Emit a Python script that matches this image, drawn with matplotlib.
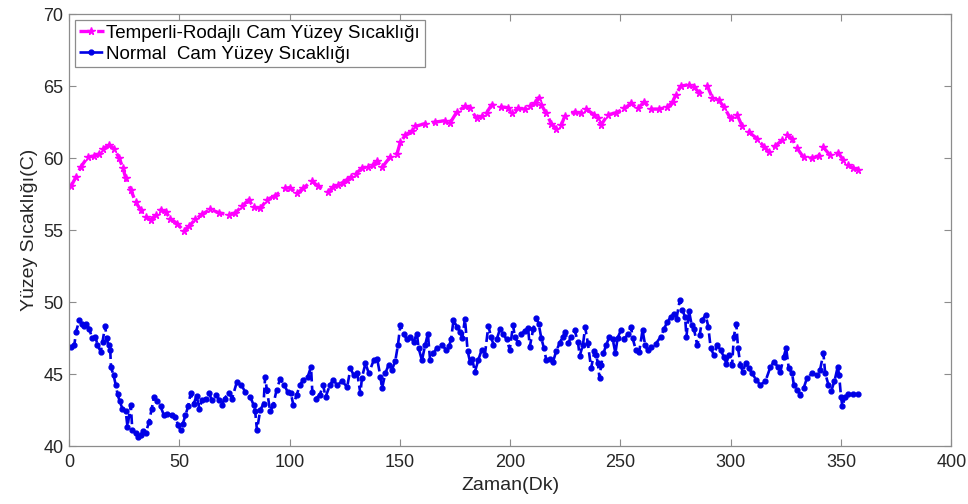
import matplotlib
matplotlib.use("Agg")
import matplotlib.pyplot as plt

# Temperli-Rodajlı cam (magenta)
t_temp = [0.9, 3.2, 5.4, 8.4, 11.4, 13.7, 15.2, 18.2, 20.5, 22.7, 24.5, 25.7, 28, 30.2,
          32.5, 34.8, 37, 39.3, 41.5, 43.8, 46, 49, 52, 54.3, 57.3, 60.4, 64.1, 67.9,
          72.4, 75.4, 78.4, 81.4, 83.7, 86.7, 89.7, 93.5, 98, 100.2, 103.2, 106.2, 110,
          113, 117.5, 119.8, 122, 124, 126, 128, 130, 132.7, 135.5, 137.6, 139.7, 141.9,
          145.7, 148.7, 150.2, 152.5, 155.5, 157, 161.5, 166, 170.5, 172.8, 175.8, 179.5,
          181.8, 184.8, 187, 189.3, 191.6, 196, 199, 200.6, 203.6, 206.6, 208.9, 211.1,
          212.9, 214.1, 216.4, 218.6, 220.9, 223.2, 224.7, 229.2, 232.2, 234.4, 238.2,
          239.7, 241.2, 244.2, 248, 251.8, 254.8, 257.8, 260.8, 263.8, 267.5, 271.3,
          273.6, 275.1, 277.3, 281.1, 283.3, 285.6, 289.4, 291.6, 294.7, 296.9, 299.9,
          302.9, 305.2, 308.2, 312, 315, 317.2, 320.2, 323.3, 325.5, 327.8, 330, 333,
          336.8, 339.8, 342, 345, 348.8, 351.1, 353.3, 355.6, 357.5]
v_temp = [58.05, 58.7, 59.4, 60.05, 60.15, 60.3, 60.65, 60.9, 60.65, 60.0, 59.3, 58.6, 57.8, 56.95,
          56.4, 55.9, 55.7, 56.05, 56.4, 56.25, 55.8, 55.45, 54.95, 55.25, 55.75, 56.1, 56.45, 56.2,
          56.05, 56.2, 56.65, 57.1, 56.6, 56.5, 57.1, 57.4, 57.9, 57.95, 57.55, 57.9, 58.4,
          58.05, 57.65, 58.0, 58.1, 58.3, 58.5, 58.7, 58.9, 59.3, 59.4, 59.5, 59.8, 59.35,
          60.1, 60.3, 61.1, 61.6, 61.9, 62.2, 62.4, 62.5, 62.6, 62.45, 63.2, 63.6,
          63.45, 62.75, 62.9, 63.15, 63.7, 63.55, 63.5, 63.15, 63.45, 63.4, 63.6, 63.8,
          64.2, 63.7, 63.1, 62.4, 62.05, 62.3, 62.9, 63.2, 63.1, 63.4, 63.0,
          62.75, 62.3, 63.0, 63.15, 63.45, 63.8, 63.45, 63.9, 63.4, 63.4, 63.55,
          63.9, 64.4, 65.0, 65.1, 64.95, 64.55, 65.0, 64.2, 64.0, 63.55, 62.75,
          63.0, 62.2, 61.8, 61.35, 60.8, 60.45, 60.85, 61.25, 61.6, 61.35, 60.7, 60.05,
          60.0, 60.15, 60.75, 60.2, 60.35, 59.85, 59.5, 59.3, 59.2]

# Normal cam (blue)
t_norm = [0.9, 2.4, 3.2, 4.7, 5.8, 6.9, 7.9, 9.2, 10.4, 12, 12.9, 14.4, 15.2, 16.4, 17, 17.9,
          18.7, 19, 20.2, 21.2, 22, 23, 24.2, 25.7, 26.5, 28, 28.7, 30.2, 31.4, 32.5, 33.6,
          34.8, 36.3, 37.5, 38.5, 40, 41.5, 43, 44.5, 46.5, 48, 49.5, 50.6, 51.6, 52.8, 54,
          55.1, 56.6, 57.8, 59.1, 60.3, 61.9, 63.3, 64.8, 66.7, 68.2, 69.3, 70.5, 72.4,
          73.9, 76.1, 78.1, 79.9, 82.2, 83.7, 84.4, 85.2, 86.7, 88.2, 88.9, 89.7, 91.2,
          92.6, 94.1, 95.7, 97.6, 99.1, 100.6, 101.7, 103.2, 104.7, 106.2, 108.2, 109.7,
          110.3, 111.8, 113.7, 115.2, 116.3, 118.3, 119.8, 121.6, 123.8, 126.1, 127.6,
          129.1, 130.6, 132.1, 132.8, 134.4, 135.9, 138.1, 139.7, 141.2, 141.9, 143.4,
          144.9, 146.4, 147.9, 149.1, 150.2, 151.7, 153.2, 154.7, 156.2, 157.7, 158.5,
          160, 161.5, 162.7, 163.7, 165.2, 166.7, 169, 170.8, 172.3, 173.2, 174.3, 175.8,
          177.3, 178.3, 179.5, 180.7, 181.8, 182.8, 184, 185.5, 187, 188.5, 190.1, 191.3,
          192.4, 193.9, 195.3, 196.8, 198.4, 199.8, 201.3, 202.1, 203.6, 205.1, 206.6,
          208.1, 208.9, 210.4, 211.9, 212.9, 214.1, 215.3, 216.4, 217.9, 219.4, 220.9,
          222.4, 223.9, 225, 226.2, 227.7, 229.2, 230.7, 231.5, 233, 234, 235.2, 236.7,
          238.2, 239, 239.7, 240.5, 241.2, 242.3, 243.5, 245, 246.5, 247.7, 248.7, 250.2,
          251.8, 253.3, 254.8, 255.5, 257, 258.5, 260, 261.2, 262.3, 263.8, 266, 268.3,
          269.8, 271.3, 272.8, 274.3, 275.4, 276.9, 278.1, 279.3, 279.9, 281.1, 282.3,
          283.3, 284.8, 285.9, 287, 288.6, 289.8, 290.9, 292.4, 293.9, 295.4, 296.9,
          297.9, 299.1, 300.6, 301.4, 302.5, 303.3, 304.4, 305.5, 306.7, 308.2, 309.7,
          311.5, 313.4, 315.7, 318, 319.5, 321.4, 322.5, 324, 325.1, 326.3, 327.8, 328.6,
          330.1, 331.5, 333, 334.5, 336.8, 339, 340.5, 342, 342.8, 344.3, 345.5, 347,
          348.5, 349.1, 350, 350.6, 351.8, 353.3, 355.6, 357.5]
v_norm = [46.9, 47.0, 47.95, 48.75, 48.5, 48.35, 48.5, 48.15, 47.5, 47.6, 47.0, 46.55, 47.25, 48.35, 47.5, 47.0,
          46.65, 45.5, 44.9, 44.25, 43.6, 43.1, 42.6, 42.4, 41.35, 42.85, 41.1, 40.9, 40.6, 40.75, 41.05,
          40.9, 41.7, 42.6, 43.4, 43.1, 42.75, 42.15, 42.25, 42.15, 42.05, 41.45, 41.1, 41.55, 42.15, 42.75,
          43.65, 42.95, 43.5, 42.6, 43.2, 43.3, 43.7, 43.2, 43.55, 43.2, 42.85, 43.3, 43.7,
          43.3, 44.45, 44.25, 43.75, 43.4, 42.85, 42.4, 41.1, 42.5, 42.95, 44.8, 43.9, 42.4,
          42.85, 43.9, 44.65, 44.25, 43.75, 43.65, 42.85, 43.55, 44.25, 44.6, 44.8, 45.5,
          43.75, 43.3, 43.55, 44.25, 43.4, 44.25, 44.6, 44.25, 44.5, 44.1, 45.4,
          44.9, 45.1, 43.65, 44.75, 45.75, 45.05, 45.95, 46.05, 44.8, 44.0, 45.05,
          45.65, 45.3, 45.9, 47.0, 48.4, 47.8, 47.4, 47.6, 47.25, 47.8, 46.8,
          45.95, 47.05, 47.8, 45.95, 46.45, 46.8, 47.05, 46.7, 46.95, 47.4, 48.75, 48.3,
          47.95, 47.5, 48.85, 46.6, 45.85, 46.05, 45.15, 45.95, 46.65, 46.3, 48.35, 47.6,
          47.05, 47.4, 48.1, 47.8, 47.4, 46.7, 48.4, 47.6, 47.15, 47.8, 48.0,
          48.2, 46.9, 48.1, 48.9, 48.5, 47.5, 46.8, 45.95, 46.05, 45.85, 46.6,
          47.15, 47.6, 47.95, 47.15, 47.6, 48.05, 47.25, 46.25, 47.05, 48.25, 47.15, 45.4,
          46.6, 46.3, 45.8, 44.7, 45.6, 46.45, 47.0, 47.6, 47.4, 46.45, 47.5, 48.05,
          47.4, 47.8, 48.3, 47.5, 46.65, 46.55, 48.05, 47.0, 46.65, 46.9, 47.1, 47.6,
          48.15, 48.65, 48.95, 49.2, 48.85, 50.15, 49.45, 48.95, 47.6, 49.35, 48.4,
          48.15, 47.0, 47.7, 48.75, 49.1, 48.3, 46.8, 46.3, 47.0, 46.65, 46.2,
          45.7, 46.3, 45.6, 47.6, 48.5, 46.8, 45.6, 45.15, 45.75, 45.4, 45.05,
          44.6, 44.25, 44.5, 45.5, 45.85, 45.5, 45.15, 46.2, 46.8, 45.4, 45.05, 44.25,
          43.9, 43.55, 44.0, 44.7, 45.05, 44.95, 45.3, 46.45, 45.05, 44.25, 43.8, 44.5,
          45.5, 44.95, 43.4, 42.75, 43.4, 43.6, 43.6, 43.6]

label_temp = "Temperli-Rodajlı Cam Yüzey Sıcaklığı"
label_norm = "Normal  Cam Yüzey Sıcaklığı"
x_ticks = [0, 50, 100, 150, 200, 250, 300, 350, 400]
y_ticks = [40, 45, 50, 55, 60, 65, 70]

plt.rcParams['font.family'] = ['Liberation Sans', 'DejaVu Sans']
txt = '#262626'
spine = '#8c8c8c'

fig = plt.figure(figsize=(9.68, 5.04), dpi=100)
ax = fig.add_axes([0.0713, 0.115, 0.9115, 0.857])

ax.plot(t_temp, v_temp, linestyle='--', color='#ff00ff', linewidth=2.4,
        marker='*', markersize=5.5, label=label_temp)
ax.plot(t_norm, v_norm, linestyle='--', color='#0000e6', linewidth=1.9,
        marker='.', markersize=7, label=label_norm)

ax.set_xlim(0, 400)
ax.set_ylim(40, 70)
ax.set_xticks(x_ticks)
ax.set_yticks(y_ticks)
ax.tick_params(direction='in', top=True, right=True, length=5, width=0.8,
               colors=txt, labelsize=13, color=spine)
ax.tick_params(axis='x', pad=6)
ax.tick_params(axis='y', pad=4)
for s in ax.spines.values():
    s.set_color(spine)
    s.set_linewidth(0.9)

ax.set_xlabel("Zaman(Dk)", fontsize=14, color=txt, labelpad=4)
ax.set_ylabel("Yüzey Sıcaklığı(C)", fontsize=14, color=txt, labelpad=4)

leg = ax.legend(loc='upper left', fontsize=13.5, handlelength=1.3, handletextpad=0.15,
                borderpad=0.25, labelspacing=0.2, fancybox=False, framealpha=1,
                edgecolor=spine, bbox_to_anchor=(0.002, 0.995), borderaxespad=0.2)
leg.get_frame().set_linewidth(0.9)
for t in leg.get_texts():
    t.set_color('black')

fig.savefig("out.png", dpi=100)
